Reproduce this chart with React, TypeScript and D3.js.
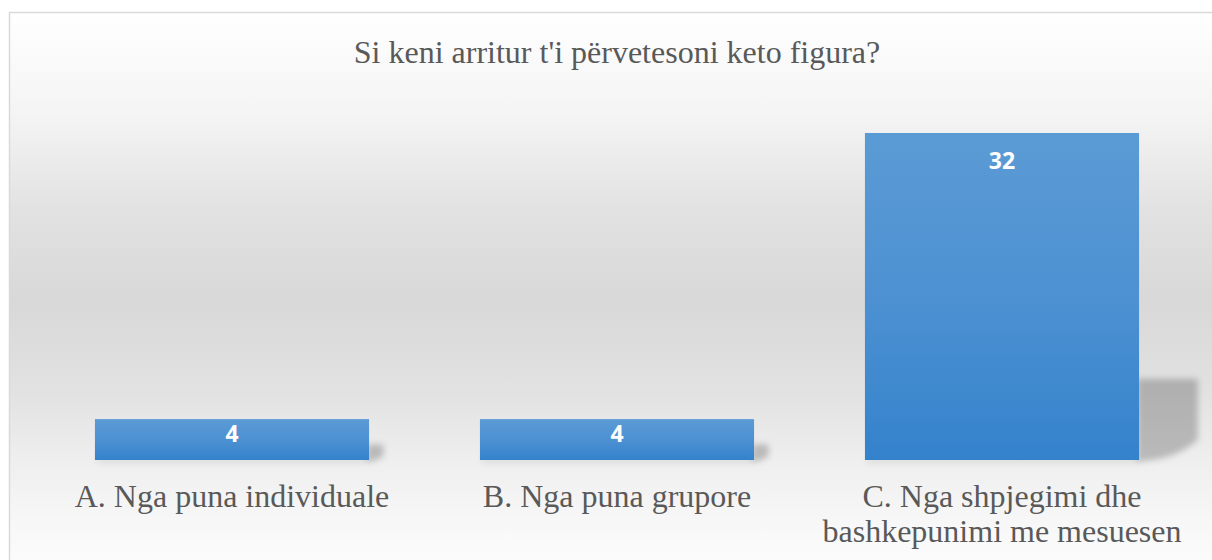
import { useEffect, useRef } from 'react'
import * as d3 from 'd3'

const title = "Si keni arritur t'i përvetesoni keto figura?"
const categories = [
    'A. Nga puna individuale',
    'B. Nga puna grupore',
    'C. Nga shpjegimi dhe bashkepunimi me mesuesen',
]
const values = [4, 4, 32]

const App = () => {
    const ref = useRef<SVGSVGElement | null>(null)

    useEffect(() => {
        const width = 1212
        const height = 560
        const svg = d3.select(ref.current)
        svg.selectAll('*').remove()

        const defs = svg.append('defs')

        // chart background gradient (white -> grey -> white)
        const bg = defs
            .append('linearGradient')
            .attr('id', 'bg')
            .attr('gradientUnits', 'userSpaceOnUse')
            .attr('x1', 0)
            .attr('x2', 0)
            .attr('y1', 12)
            .attr('y2', 590)
        const bgStops: [number, string][] = [
            [0, '#ffffff'],
            [0.18, '#f4f4f4'],
            [0.34, '#e2e2e2'],
            [0.5, '#d8d8d8'],
            [0.66, '#e2e2e2'],
            [0.77, '#eeeeee'],
            [0.88, '#f7f7f7'],
            [1, '#ffffff'],
        ]
        bg.selectAll('stop')
            .data(bgStops)
            .join('stop')
            .attr('offset', (d) => d[0])
            .attr('stop-color', (d) => d[1])

        const barGrad = defs
            .append('linearGradient')
            .attr('id', 'bar')
            .attr('x1', 0)
            .attr('x2', 0)
            .attr('y1', 0)
            .attr('y2', 1)
        barGrad.append('stop').attr('offset', 0).attr('stop-color', '#5b9bd5')
        barGrad.append('stop').attr('offset', 0.5).attr('stop-color', '#4d91d2')
        barGrad.append('stop').attr('offset', 1).attr('stop-color', '#3482cc')

        defs.append('filter')
            .attr('id', 'blur')
            .attr('x', '-50%')
            .attr('y', '-50%')
            .attr('width', '200%')
            .attr('height', '200%')
            .append('feGaussianBlur')
            .attr('stdDeviation', 3)

        svg.append('rect')
            .attr('x', 9.5)
            .attr('y', 12.5)
            .attr('width', width + 20)
            .attr('height', height + 40)
            .attr('fill', 'url(#bg)')
            .attr('stroke', '#d9d9d9')
            .attr('stroke-width', 1.5)

        svg.append('text')
            .attr('x', 617)
            .attr('y', 63)
            .attr('text-anchor', 'middle')
            .attr('font-family', '"Liberation Serif", "Times New Roman", serif')
            .attr('font-size', 32)
            .attr('fill', '#595959')
            .text(title)

        const x = d3
            .scaleBand<string>()
            .domain(categories)
            .range([39.5, 1194.5])
            .paddingInner(0.288)
            .paddingOuter(0.144)
        const y = d3.scaleLinear().domain([0, 32]).range([460, 133])

        const data = categories.map((c, i) => ({ c, v: values[i] }))

        // soft shadows behind the bars
        const sh = svg.append('g').attr('filter', 'url(#blur)')
        sh.selectAll('path')
            .data(data)
            .join('path')
            .attr('d', (d) => {
                const x1 = x(d.c)! + x.bandwidth()
                const h = y(0) - y(d.v)
                const w = 8 + 0.155 * h
                const up = 6 + 0.23 * h
                const b = y(0)
                return `M${x1 - 2},${b - up} L${x1 + w},${b - up} L${x1 + w},${b - up * 0.25} Q${x1 + w * 0.6},${b + 1} ${x1 - 2},${b + 1} Z`
            })
            .attr('fill', '#000')
            .attr('fill-opacity', 0.22)
        sh.selectAll('rect')
            .data(data)
            .join('rect')
            .attr('x', (d) => x(d.c)! + 2)
            .attr('y', y(0) - 1)
            .attr('width', x.bandwidth())
            .attr('height', 3)
            .attr('fill', '#000')
            .attr('fill-opacity', 0.15)

        svg.append('g')
            .selectAll('rect')
            .data(data)
            .join('rect')
            .attr('x', (d) => x(d.c)!)
            .attr('y', (d) => y(d.v))
            .attr('width', x.bandwidth())
            .attr('height', (d) => y(0) - y(d.v))
            .attr('fill', 'url(#bar)')

        svg.append('g')
            .selectAll('text')
            .data(data)
            .join('text')
            .attr('x', (d) => x(d.c)! + x.bandwidth() / 2)
            .attr('y', (d) => {
                const h = y(0) - y(d.v)
                return y(d.v) + Math.min(28, h / 2 - 6)
            })
            .attr('dy', '0.35em')
            .attr('text-anchor', 'middle')
            .attr('font-family', '"Open Sans", "Noto Sans", sans-serif')
            .attr('font-weight', 700)
            .attr('font-size', 23)
            .attr('fill', '#ffffff')
            .text((d) => d.v)

        // category labels, wrapped to band step
        const labels = svg
            .append('g')
            .attr('font-family', '"Liberation Serif", "Times New Roman", serif')
            .attr('font-size', 32)
            .attr('fill', '#595959')
            .attr('text-anchor', 'middle')
        categories.forEach((c) => {
            const cx = x(c)! + x.bandwidth() / 2
            const t = labels.append('text').attr('x', cx).attr('y', 507)
            const words = c.split(' ')
            let line: string[] = []
            let ts = t.append('tspan').attr('x', cx).attr('y', 507)
            let lineNo = 0
            words.forEach((w) => {
                line.push(w)
                ts.text(line.join(' '))
                if ((ts.node() as SVGTSpanElement).getComputedTextLength() > x.step() && line.length > 1) {
                    line.pop()
                    ts.text(line.join(' '))
                    line = [w]
                    lineNo++
                    ts = t.append('tspan').attr('x', cx).attr('y', 507 + lineNo * 35).text(w)
                }
            })
        })
    }, [])

    return (
        <svg
            ref={ref}
            width={1212}
            height={560}
            style={{ position: 'fixed', left: 0, top: 0, display: 'block' }}
        />
    )
}

export default App
